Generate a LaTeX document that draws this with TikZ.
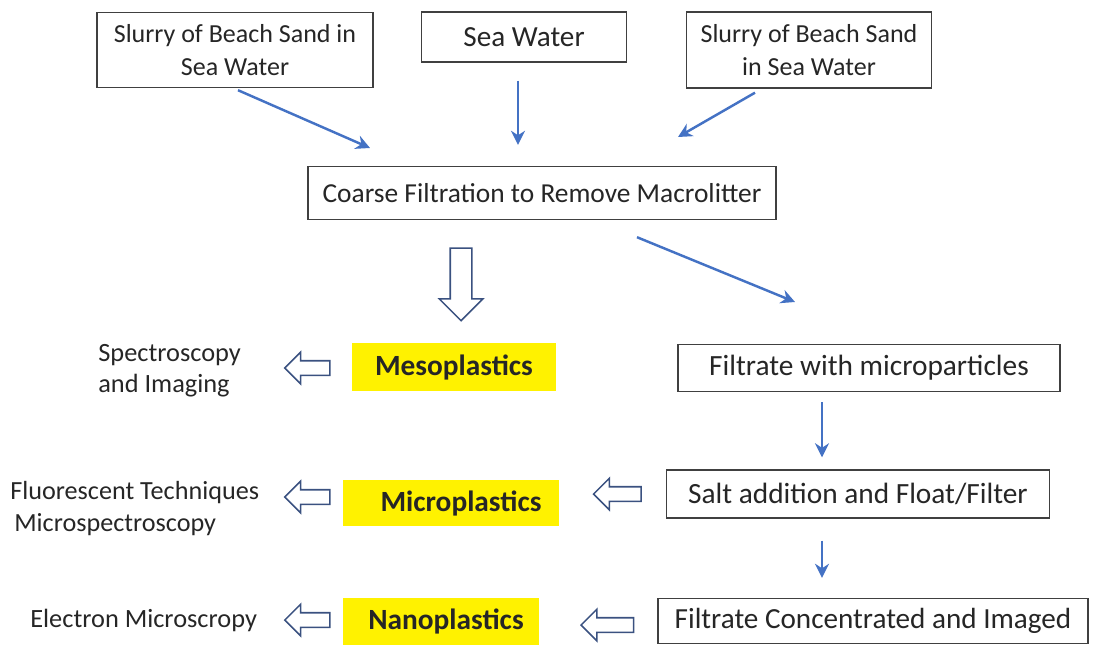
\documentclass[tikz,border=0pt]{standalone}
\usepackage{fontspec}
\setmainfont{Carlito}
\usetikzlibrary{arrows.meta,shapes.arrows}
\definecolor{flowblue}{HTML}{4472C4}
\definecolor{hollowblue}{HTML}{3A5180}
\definecolor{inkgray}{HTML}{262626}
\tikzset{
  box/.style={draw=black!75, line width=0.8pt, fill=white, align=center, inner sep=0pt, text=inkgray},
  hl/.style={fill=yellow, inner sep=0pt, text=inkgray, font=\fontsize{16.7}{19}\selectfont\bfseries},
  side/.style={align=left, inner sep=0pt, anchor=west, text=inkgray, font=\fontsize{15}{18}\selectfont},
  flow/.style={draw=flowblue, line width=1.4pt, -{Stealth[length=8pt,width=8pt]}},
  hollow/.style={single arrow, draw=hollowblue, line width=0.9pt, fill=white, inner sep=0.13cm,
    single arrow head extend=0.17cm, single arrow tip angle=90, minimum height=0.9cm}
}
\begin{document}
\begin{tikzpicture}[x=0.02cm,y=-0.02cm]
\useasboundingbox (0,0) rectangle (1095,645);
\node[box, minimum width=5.52cm, minimum height=1.5cm, font=\fontsize{14.8}{18.6}\selectfont] (src1) at (235,50) {Slurry of Beach Sand in\\Sea Water};
\node[box, minimum width=4.1cm, minimum height=1.0cm, font=\fontsize{16.6}{19}\selectfont] (sea) at (524,37) {Sea Water};
\node[box, minimum width=4.9cm, minimum height=1.52cm, font=\fontsize{14.8}{18.6}\selectfont] (src2) at (809,50) {Slurry of Beach Sand\\in Sea Water};
\node[box, minimum width=9.36cm, minimum height=1.06cm, font=\fontsize{15.6}{18}\selectfont] (coarse) at (542,193) {Coarse Filtration to Remove Macrolitter};
\coordinate (in1) at (370,148);
\coordinate (in3) at (678,137);
\coordinate (out1) at (795,302);
\draw[flow] (src1.south) ++(3,2) -- (in1);
\draw[flow, shorten <=0.36cm, shorten >=0.42cm] ([xshift=-0.12cm]sea.south) -- ([xshift=-0.12cm]sea.south |- coarse.north);
\draw[flow] ([shift={(-54,4)}]src2.south) -- (in3);
\draw[flow] ([shift={(95,17)}]coarse.south) -- (out1);
\node[hollow, rotate=-90, minimum height=1.45cm, inner sep=0.2cm, single arrow head extend=0.22cm] (down) at (461,279) {};
\node[hl, minimum width=4.08cm, minimum height=0.96cm] (meso) at (454,367) {Mesoplastics};
\node[hl, minimum width=4.34cm, minimum height=0.94cm] (micro) at (451,503) {\hspace{0.4cm}Microplastics};
\node[hl, minimum width=3.94cm, minimum height=0.94cm] (nano) at (441,621) {\hspace{0.2cm}Nanoplastics};
\node[box, minimum width=7.64cm, minimum height=0.94cm, font=\fontsize{16.7}{19}\selectfont] (filt) at (869,368) {Filtrate with microparticles};
\node[box, minimum width=7.66cm, minimum height=0.96cm, font=\fontsize{16.7}{19}\selectfont] (salt) at (858,494) {Salt addition and Float/Filter};
\node[box, minimum width=8.6cm, minimum height=0.9cm, font=\fontsize{16.6}{19}\selectfont] (conc) at (873,621) {Filtrate Concentrated and Imaged};
\node[side, font=\fontsize{15}{17.6}\selectfont] (spec) at (98,371) {Spectroscopy\\and Imaging};
\node[side, font=\fontsize{14.9}{18.2}\selectfont] (fluo) at (10,509) {Fluorescent Techniques\\\hspace{0.08cm}Microspectroscopy};
\node[side] (elec) at (30,620) {Electron Microscropy};
\draw[flow, shorten <=0.2cm, shorten >=0.24cm] ([xshift=-0.94cm]filt.south) -- ([xshift=-0.94cm]filt.south |- salt.north);
\draw[flow, shorten <=0.44cm, shorten >=0.4cm] ([xshift=-0.72cm]salt.south) -- ([xshift=-0.72cm]salt.south |- conc.north);
\node[hollow, shape border rotate=180] (h1) at (311,368) {};
\node[hollow, shape border rotate=180, minimum height=0.95cm] (h2) at (621,494) {};
\node[hollow, shape border rotate=180] (h3) at (311,497) {};
\node[hollow, shape border rotate=180, minimum height=1.05cm] (h4) at (611,625) {};
\node[hollow, shape border rotate=180] (h5) at (311,620) {};
\end{tikzpicture}
\end{document}
